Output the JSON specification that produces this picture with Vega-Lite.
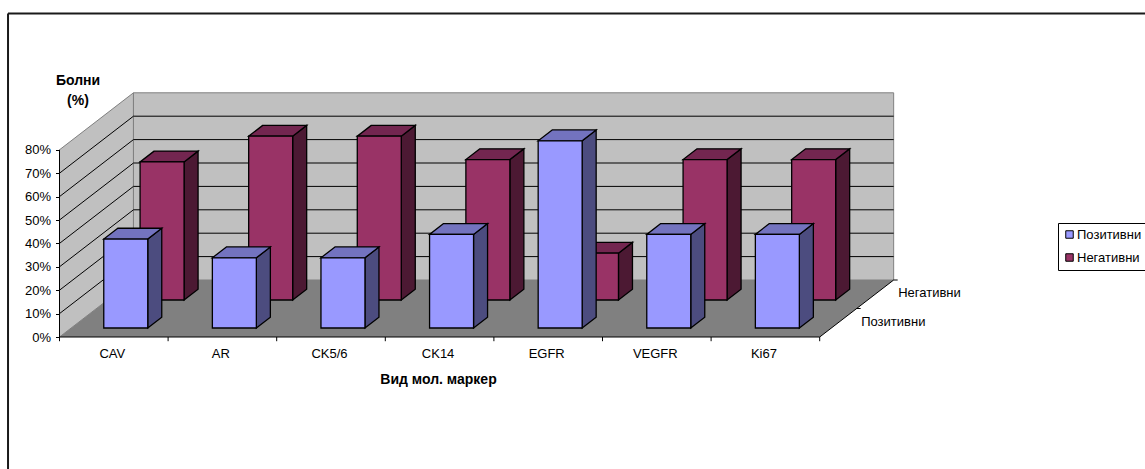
{
  "$schema": "https://vega.github.io/schema/vega-lite/v6.json",
  "width": 1145,
  "height": 469,
  "padding": 0,
  "autosize": {"type": "none"},
  "background": "white",
  "config": {
    "view": {"stroke": null},
    "font": "Liberation Sans",
    "text": {"font": "Liberation Sans"}
  },
  "datasets": {
    "depthEnds": [{"d": 0}, {"d": 1}],
    "gridLevels": [{"pct": 10}, {"pct": 20}, {"pct": 30}, {"pct": 40}, {"pct": 50}, {"pct": 60}, {"pct": 70}],
    "markerTicks": [{"c": 0}, {"c": 1}, {"c": 2}, {"c": 3}, {"c": 4}, {"c": 5}, {"c": 6}, {"c": 7}],
    "depthLabels": [
      {"series": "Позитивни", "d": 0.25},
      {"series": "Негативни", "d": 0.75}
    ],
    "frameEdges": [
      {"x": -0.474, "x2": 9.9954, "y": 138.25, "y2": 138.25},
      {"x": -0.474, "x2": -0.474, "y": 138.25, "y2": -56.41}
    ],
    "axisLines": [
      {"x": 0, "x2": 0, "y": 0, "y2": 80},
      {"x": 0, "x2": 7, "y": 0, "y2": 0},
      {"x": 7, "x2": 7.681, "y": 0, "y2": 24.36},
      {"x": 7.681, "x2": 7.718, "y": 24.36, "y2": 24.36},
      {"x": 7.34, "x2": 7.377, "y": 12.18, "y2": 12.18}
    ]
  },
  "data": {
    "values": [
      {"marker": "CAV", "series": "Позитивни", "percent": 38},
      {"marker": "AR", "series": "Позитивни", "percent": 30},
      {"marker": "CK5/6", "series": "Позитивни", "percent": 30},
      {"marker": "CK14", "series": "Позитивни", "percent": 40},
      {"marker": "EGFR", "series": "Позитивни", "percent": 80},
      {"marker": "VEGFR", "series": "Позитивни", "percent": 40},
      {"marker": "Ki67", "series": "Позитивни", "percent": 40},
      {"marker": "CAV", "series": "Негативни", "percent": 59},
      {"marker": "AR", "series": "Негативни", "percent": 70},
      {"marker": "CK5/6", "series": "Негативни", "percent": 70},
      {"marker": "CK14", "series": "Негативни", "percent": 60},
      {"marker": "EGFR", "series": "Негативни", "percent": 20},
      {"marker": "VEGFR", "series": "Негативни", "percent": 60},
      {"marker": "Ki67", "series": "Негативни", "percent": 60}
    ]
  },
  "transform": [
    {"calculate": "indexof(['CAV','AR','CK5/6','CK14','EGFR','VEGFR','Ki67'], datum.marker)", "as": "slot"},
    {"calculate": "datum.series === 'Позитивни' ? 0.158 : 0.649", "as": "depth"},
    {"calculate": "datum.slot + 0.30 + datum.depth * 0.681", "as": "xL"},
    {"calculate": "datum.xL + 0.405", "as": "xR"},
    {"calculate": "datum.depth * 24.36", "as": "yB"},
    {"calculate": "datum.yB + datum.percent", "as": "yT"},
    {"calculate": "0", "as": "near"},
    {"calculate": "1", "as": "far"},
    {"fold": ["near", "far"], "as": ["edge", "t"]},
    {"calculate": "datum.xR + datum.t * 0.129", "as": "sideX"},
    {"calculate": "datum.yB + datum.t * 4.63", "as": "sideLo"},
    {"calculate": "datum.yT + datum.t * 4.63", "as": "capY"},
    {"calculate": "datum.xL + datum.t * 0.129", "as": "capL"},
    {"calculate": "datum.xR + datum.t * 0.129", "as": "capR"}
  ],
  "layer": [
    {
      "data": {"name": "frameEdges"},
      "transform": [],
      "mark": {"type": "rule", "color": "#1a1a1a", "strokeWidth": 2},
      "encoding": {
        "x": {
          "field": "x",
          "type": "quantitative",
          "scale": {"domain": [-0.5479, 9.9954], "nice": false, "zero": false},
          "axis": {
            "values": [0.5, 1.5, 2.5, 3.5, 4.5, 5.5, 6.5],
            "labelExpr": "['CAV','AR','CK5/6','CK14','EGFR','VEGFR','Ki67'][floor(datum.value)]",
            "orient": "bottom",
            "offset": -132,
            "domain": false,
            "ticks": false,
            "grid": false,
            "labelFontSize": 13,
            "labelColor": "black",
            "labelPadding": 10,
            "labelOffset": -2,
            "labelFlush": false,
            "labelOverlap": false,
            "title": "Вид мол. маркер",
            "titleFontSize": 14,
            "titleFontWeight": "bold",
            "titleColor": "black",
            "titleAlign": "center",
            "titleBaseline": "middle",
            "titleX": 438,
            "titleY": 42
          }
        },
        "x2": {"field": "x2"},
        "y": {
          "field": "y",
          "type": "quantitative",
          "scale": {"domain": [-56.41, 144.02], "nice": false, "zero": false},
          "axis": {
            "values": [0, 10, 20, 30, 40, 50, 60, 70, 80],
            "labelExpr": "datum.value + '%'",
            "orient": "left",
            "offset": -59.5,
            "domain": false,
            "tickSize": 4,
            "tickColor": "black",
            "grid": false,
            "labelFontSize": 13,
            "labelColor": "black",
            "labelPadding": 5,
            "labelOverlap": false,
            "title": ["Болни", "(%)"],
            "titleFontSize": 14,
            "titleFontWeight": "bold",
            "titleColor": "black",
            "titleAngle": 0,
            "titleAlign": "center",
            "titleBaseline": "middle",
            "titleLineHeight": 20,
            "titleX": 18,
            "titleY": 80
          }
        },
        "y2": {"field": "y2"}
      }
    },
    {
      "data": {"name": "depthEnds"},
      "transform": [
        {"calculate": "datum.d * 0.681", "as": "wx"},
        {"calculate": "datum.d * 24.36", "as": "lo"},
        {"calculate": "datum.lo + 80", "as": "hi"}
      ],
      "mark": {"type": "area", "color": "#C0C0C0", "stroke": "#808080", "strokeWidth": 1, "orient": "vertical"},
      "encoding": {
        "x": {"field": "wx", "type": "quantitative"},
        "y": {"field": "lo", "type": "quantitative"},
        "y2": {"field": "hi"}
      }
    },
    {
      "data": {"name": "depthEnds"},
      "transform": [
        {"filter": "datum.d === 1"},
        {"calculate": "0.681", "as": "x0"},
        {"calculate": "7.681", "as": "x1"},
        {"calculate": "24.36", "as": "y0"},
        {"calculate": "104.36", "as": "y1"}
      ],
      "mark": {"type": "rect", "color": "#C0C0C0", "stroke": "#808080", "strokeWidth": 1},
      "encoding": {
        "x": {"field": "x0", "type": "quantitative"},
        "x2": {"field": "x1"},
        "y": {"field": "y0", "type": "quantitative"},
        "y2": {"field": "y1"}
      }
    },
    {
      "data": {"name": "depthEnds"},
      "transform": [
        {"calculate": "datum.d * 0.681", "as": "fx0"},
        {"calculate": "7 + datum.d * 0.681", "as": "fx1"},
        {"calculate": "datum.d * 24.36", "as": "fy"}
      ],
      "mark": {"type": "area", "color": "#808080", "orient": "horizontal"},
      "encoding": {
        "y": {"field": "fy", "type": "quantitative"},
        "x": {"field": "fx0", "type": "quantitative"},
        "x2": {"field": "fx1"}
      }
    },
    {
      "data": {"name": "gridLevels"},
      "transform": [
        {"calculate": "0.681", "as": "x0"},
        {"calculate": "7.681", "as": "x1"},
        {"calculate": "datum.pct + 24.36", "as": "yb"}
      ],
      "mark": {"type": "rule", "color": "black", "strokeWidth": 1},
      "encoding": {
        "x": {"field": "x0", "type": "quantitative"},
        "x2": {"field": "x1"},
        "y": {"field": "yb", "type": "quantitative"}
      }
    },
    {
      "data": {"name": "gridLevels"},
      "transform": [
        {"calculate": "0", "as": "x0"},
        {"calculate": "0.681", "as": "x1"},
        {"calculate": "datum.pct + 24.36", "as": "yb"}
      ],
      "mark": {"type": "rule", "color": "black", "strokeWidth": 1},
      "encoding": {
        "x": {"field": "x0", "type": "quantitative"},
        "x2": {"field": "x1"},
        "y": {"field": "pct", "type": "quantitative"},
        "y2": {"field": "yb"}
      }
    },
    {
      "data": {"name": "axisLines"},
      "transform": [],
      "mark": {"type": "rule", "color": "black", "strokeWidth": 1},
      "encoding": {
        "x": {"field": "x", "type": "quantitative"},
        "x2": {"field": "x2"},
        "y": {"field": "y", "type": "quantitative"},
        "y2": {"field": "y2"}
      }
    },
    {
      "data": {"name": "markerTicks"},
      "transform": [
        {"calculate": "0", "as": "y0"},
        {"calculate": "-1.8", "as": "y1"}
      ],
      "mark": {"type": "rule", "color": "black", "strokeWidth": 1},
      "encoding": {
        "x": {"field": "c", "type": "quantitative"},
        "y": {"field": "y0", "type": "quantitative"},
        "y2": {"field": "y1"}
      }
    },
    {
      "data": {"name": "depthLabels"},
      "transform": [
        {"calculate": "7 + datum.d * 0.681", "as": "lx"},
        {"calculate": "datum.d * 24.36", "as": "ly"}
      ],
      "mark": {"type": "text", "align": "left", "baseline": "middle", "dx": 23, "dy": -1, "fontSize": 13, "color": "black"},
      "encoding": {
        "x": {"field": "lx", "type": "quantitative"},
        "y": {"field": "ly", "type": "quantitative"},
        "text": {"field": "series"}
      }
    },
    {
      "transform": [{"filter": "datum.series === 'Негативни'"}],
      "mark": {"type": "area", "color": "#4C1933", "stroke": "black", "strokeWidth": 1.3, "orient": "vertical"},
      "encoding": {
        "detail": {"field": "marker"},
        "x": {"field": "sideX", "type": "quantitative"},
        "y": {"field": "sideLo", "type": "quantitative"},
        "y2": {"field": "capY"}
      }
    },
    {
      "transform": [{"filter": "datum.series === 'Негативни'"}],
      "mark": {"type": "area", "color": "#732650", "stroke": "black", "strokeWidth": 1.3, "orient": "horizontal"},
      "encoding": {
        "detail": {"field": "marker"},
        "y": {"field": "capY", "type": "quantitative"},
        "x": {"field": "capL", "type": "quantitative"},
        "x2": {"field": "capR"}
      }
    },
    {
      "transform": [{"filter": "datum.series === 'Негативни' && datum.t === 0"}],
      "mark": {"type": "rect", "stroke": "black", "strokeWidth": 1.3},
      "encoding": {
        "x": {"field": "xL", "type": "quantitative"},
        "x2": {"field": "xR"},
        "y": {"field": "yB", "type": "quantitative"},
        "y2": {"field": "yT"},
        "fill": {
          "field": "series",
          "type": "nominal",
          "scale": {"domain": ["Позитивни", "Негативни"], "range": ["#9999FF", "#993366"]},
          "legend": {
            "orient": "none",
            "legendX": 1058,
            "legendY": 223,
            "title": null,
            "fillColor": "white",
            "strokeColor": "black",
            "padding": 5,
            "rowPadding": 9,
            "symbolType": "square",
            "symbolSize": 56,
            "symbolStrokeColor": "black",
            "symbolStrokeWidth": 1,
            "labelFontSize": 13,
            "labelColor": "black",
            "labelOffset": 1
          }
        }
      }
    },
    {
      "transform": [{"filter": "datum.series === 'Позитивни'"}],
      "mark": {"type": "area", "color": "#4C4C7F", "stroke": "black", "strokeWidth": 1.3, "orient": "vertical"},
      "encoding": {
        "detail": {"field": "marker"},
        "x": {"field": "sideX", "type": "quantitative"},
        "y": {"field": "sideLo", "type": "quantitative"},
        "y2": {"field": "capY"}
      }
    },
    {
      "transform": [{"filter": "datum.series === 'Позитивни'"}],
      "mark": {"type": "area", "color": "#7373BF", "stroke": "black", "strokeWidth": 1.3, "orient": "horizontal"},
      "encoding": {
        "detail": {"field": "marker"},
        "y": {"field": "capY", "type": "quantitative"},
        "x": {"field": "capL", "type": "quantitative"},
        "x2": {"field": "capR"}
      }
    },
    {
      "transform": [{"filter": "datum.series === 'Позитивни' && datum.t === 0"}],
      "mark": {"type": "rect", "stroke": "black", "strokeWidth": 1.3},
      "encoding": {
        "x": {"field": "xL", "type": "quantitative"},
        "x2": {"field": "xR"},
        "y": {"field": "yB", "type": "quantitative"},
        "y2": {"field": "yT"},
        "fill": {"field": "series", "type": "nominal"}
      }
    }
  ]
}
